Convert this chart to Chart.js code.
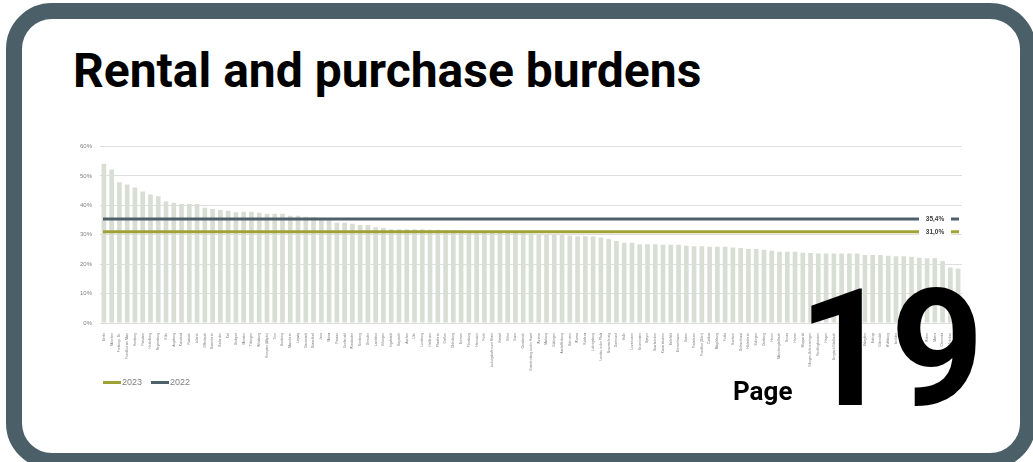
<!DOCTYPE html>
<html>
<head>
<meta charset="utf-8">
<script src="https://cdn.jsdelivr.net/npm/chart.js@4.4.1/dist/chart.umd.min.js"></script>
<style>
  html, body { margin: 0; padding: 0; background: #fff; overflow: hidden; }
  body { width: 1033px; height: 462px; position: relative; font-family: Roboto, sans-serif; }
  .frame {
    position: absolute; left: 6px; top: 3px; width: 1030px; height: 466px;
    box-sizing: border-box; border: 16px solid #4b5f68; border-radius: 46px; background: #fff;
  }
  .title {
    position: absolute; left: 73px; top: 47px; font-size: 48px; font-weight: 700;
    line-height: 1; color: #000; white-space: nowrap;
  }
  #wrap { position: absolute; left: 70px; top: 135px; width: 894px; height: 248px; }
  .legend { position: absolute; left: 103px; top: 377px; font-family: "Liberation Sans", Arial, sans-serif;
    font-size: 9px; color: #7f7f7f; display: flex; align-items: center; }
  .legend span.sw { display: inline-block; width: 18px; height: 3px; margin-right: 1px; }
  .legend span.tx { margin-right: 9px; }
  .page { position: absolute; left: 733px; top: 378px; font-size: 26px; font-weight: 700; line-height: 1; color: #000; }
  .num { position: absolute; left: 798px; top: 268px; font-size: 163px; font-weight: 700; line-height: 1;
    color: #000; letter-spacing: -1px; }
</style>
</head>
<body>
<div class="frame"></div>
<div class="title">Rental and purchase burdens</div>
<div id="wrap"><canvas id="burdenChart"></canvas></div>
<div class="legend">
  <span class="sw" style="background:#a0a237"></span><span class="tx">2023</span>
  <span class="sw" style="background:#4e616a"></span><span class="tx">2022</span>
</div>
<div class="page">Page</div>
<div class="num">19</div>

<script>
// cities, sorted by burden (2023)
const cities = [
  'Berlin', 'München', 'Freiburg i. Br.', 'Frankfurt am Main', 'Hamburg', 'Potsdam', 'Heidelberg', 'Regensburg',
  'Köln', 'Augsburg', 'Konstanz', 'Rostock', 'Lübeck', 'Offenbach', 'Rosenheim', 'Karlsruhe', 'Kiel', 'Stuttgart',
  'Münster', 'Tübingen', 'Würzburg', 'Kempten (Allgäu)', 'Trier', 'Bamberg', 'Mannheim', 'Leipzig', 'Darmstadt',
  'Düsseldorf', 'Jena', 'Mainz', 'Passau', 'Greifswald', 'Wiesbaden', 'Nürnberg', 'Dresden', 'Landshut', 'Erlangen',
  'Ingolstadt', 'Bayreuth', 'Aachen', 'Ulm', 'Lüneburg', 'Heilbronn', 'Pforzheim', 'Gießen', 'Oldenburg', 'Bremen',
  'Flensburg', 'Hannover', 'Fürth', 'Ludwigshafen am Rhein', 'Kassel', 'Erfurt', 'Bonn', 'Osnabrück',
  'Brandenburg an der Havel', 'Weimar', 'Marburg', 'Göttingen', 'Aschaffenburg', 'Schwerin', 'Worms', 'Koblenz',
  'Ludwigsburg', 'Landau in der Pfalz', 'Braunschweig', 'Dortmund', 'Halle', 'Leverkusen', 'Neumünster', 'Speyer',
  'Saarbrücken', 'Kaiserslautern', 'Bielefeld', 'Bremerhaven', 'Essen', 'Paderborn', 'Frankfurt (Oder)', 'Cottbus',
  'Magdeburg', 'Fulda', 'Bochum', 'Delmenhorst', 'Hildesheim', 'Solingen', 'Duisburg', 'Herne', 'Mönchengladbach',
  'Neuss', 'Hamm', 'Wuppertal', 'Villingen-Schwenningen', 'Recklinghausen', 'Hagen', 'Bergisch Gladbach', 'Krefeld',
  'Oberhausen', 'Remscheid', 'Salzgitter', 'Bottrop', 'Gütersloh', 'Wolfsburg', 'Iserlohn', 'Siegen',
  'Gelsenkirchen', 'Gera', 'Witten', 'Moers', 'Chemnitz', 'Zwickau', 'Plauen'
];

// burden in % of income
const burden = [
  54.2, 52.2, 47.9, 47.1, 46.1, 44.7, 43.7, 43.1, 41.3, 40.9, 40.5, 40.5, 40.5, 39.2, 38.8, 38.4, 38.2, 37.7,
  37.8, 37.8, 37.5, 37.2, 37.2, 37.2, 36.5, 36.5, 36.1, 36.0, 35.3, 35.1, 34.1, 34.1, 33.8, 33.3, 33.3, 32.6, 32.3,
  31.9, 31.9, 31.9, 31.9, 31.9, 31.7, 31.7, 31.6, 31.6, 31.5, 31.2, 31.1, 31.0, 31.0, 30.9, 30.9, 30.8, 30.7,
  30.4, 30.2, 30.1, 30.0, 29.9, 29.8, 29.5, 29.5, 29.4, 29.1, 28.6, 27.9, 27.3, 27.3, 26.8, 26.8, 26.8, 26.6, 26.6,
  26.6, 26.3, 26.1, 26.1, 25.9, 25.9, 25.9, 25.7, 25.5, 25.2, 25.2, 24.9, 24.6, 24.2, 24.2, 24.2, 23.9, 23.8, 23.6,
  23.6, 23.6, 23.6, 23.6, 23.6, 23.1, 23.1, 23.1, 22.9, 22.7, 22.7, 22.5, 22.2, 22.0, 22.0, 21.1, 18.9, 18.5
];

const avg2023 = 31.0;
const avg2022 = 35.4;
const yTicks = [0, 10, 20, 30, 40, 50, 60];

// horizontal average lines with a value tag near the right end
const avgLines = {
  id: 'avgLines',
  afterDatasetsDraw(chart) {
    const { ctx, chartArea, scales } = chart;
    const items = [
      { v: avg2022, color: '#4e616a' },
      { v: avg2023, color: '#a0a237' }
    ];
    ctx.save();
    items.forEach(it => {
      const y = scales.y.getPixelForValue(it.v);
      ctx.strokeStyle = it.color;
      ctx.lineWidth = 3;
      ctx.beginPath();
      ctx.moveTo(chartArea.left + 3, y);
      ctx.lineTo(chartArea.right - 3, y);
      ctx.stroke();
      ctx.fillStyle = '#fff';
      ctx.fillRect(chartArea.right - 43, y - 4, 32, 8);
      ctx.fillStyle = '#404040';
      ctx.font = 'bold 6.5px "Liberation Sans", Arial, sans-serif';
      ctx.textAlign = 'center';
      ctx.textBaseline = 'middle';
      ctx.fillText(it.v.toFixed(1).replace('.', ',') + '%', chartArea.right - 27, y + 0.5);
    });
    ctx.restore();
  }
};

new Chart(document.getElementById('burdenChart'), {
  type: 'bar',
  data: {
    labels: cities,
    datasets: [{
      data: burden,
      backgroundColor: '#d9ded4',
      categoryPercentage: 1,
      barPercentage: 0.6
    }]
  },
  options: {
    responsive: true,
    maintainAspectRatio: false,
    animation: false,
    layout: { padding: { top: 2, right: 2, left: 0, bottom: 0 } },
    plugins: { legend: { display: false }, tooltip: { enabled: false } },
    scales: {
      x: {
        grid: { display: false },
        border: { display: false },
        afterFit(scale) { scale.height = 60; },
        ticks: {
          autoSkip: false, maxRotation: 90, minRotation: 90, padding: 2,
          color: '#707070', font: { size: 3.2, family: '"Liberation Sans", Arial, sans-serif' }
        }
      },
      y: {
        min: 0, max: 60,
        afterFit(scale) { scale.width = 30; },
        afterBuildTicks(scale) { scale.ticks = yTicks.map(v => ({ value: v })); },
        grid: { color: '#dedede', lineWidth: 1, drawTicks: false },
        border: { display: false },
        ticks: {
          padding: 8, color: '#7f7f7f',
          font: { size: 6, family: '"Liberation Sans", Arial, sans-serif' },
          callback: v => v + '%'
        }
      }
    }
  },
  plugins: [avgLines]
});
</script>
</body>
</html>
